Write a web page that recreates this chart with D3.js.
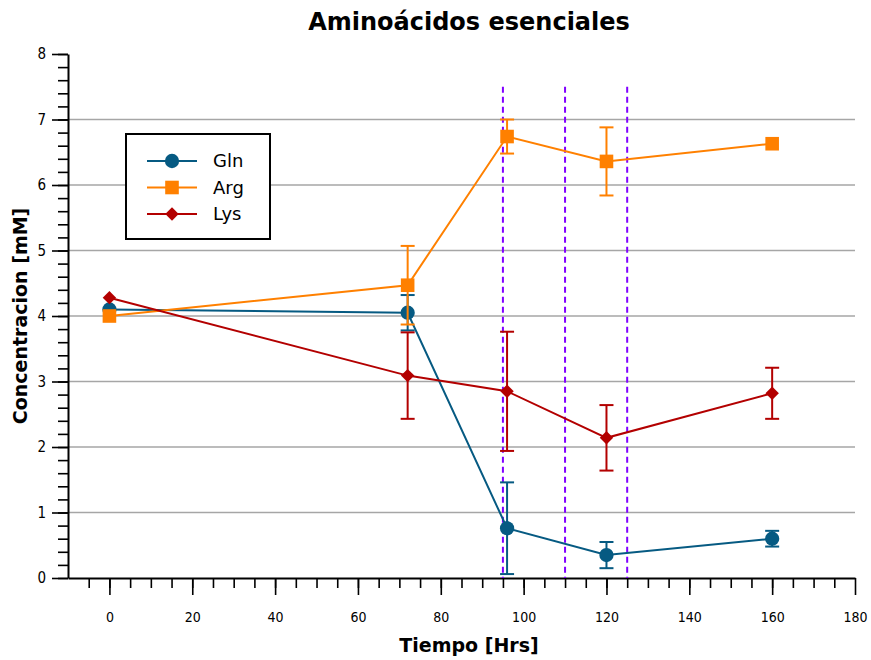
<!DOCTYPE html>
<html>
<head>
<meta charset="utf-8">
<script src="https://cdn.jsdelivr.net/npm/d3@7"></script>
<style>
  body { margin: 0; background: #fff; }
  text { font-family: "DejaVu Sans", Verdana, sans-serif; }
</style>
</head>
<body>
<div class="chart"></div>
<script>
// values
const hours = [0, 72, 96, 120, 160];
const gln = [4.1, 4.05, 0.76, 0.35, 0.6];
const glnErr = [0, 0.27, 0.7, 0.2, 0.12];
const arg = [4.0, 4.47, 6.74, 6.36, 6.63];
const argErr = [0, 0.6, 0.26, 0.52, 0];
const lys = [4.28, 3.09, 2.85, 2.14, 2.82];
const lysErr = [0, 0.66, 0.91, 0.5, 0.39];
const seriesNames = ["Gln", "Arg", "Lys"];
const markerLines = [95, 110, 125];
const xTicks = [0, 20, 40, 60, 80, 100, 120, 140, 160, 180];
const yTicks = [0, 1, 2, 3, 4, 5, 6, 7, 8];

const width = 871;
const height = 660;
const margin = {top: 54, right: 16, bottom: 82, left: 68};

const colors = {Gln: "#065a82", Arg: "#ff8000", Lys: "#b30000"};

// square turned 45 degrees, equal width and height
const symbolRhomb = {
    draw(ctx, size) {
        const r = Math.sqrt(size / 2);
        ctx.moveTo(0, -r);
        ctx.lineTo(r, 0);
        ctx.lineTo(0, r);
        ctx.lineTo(-r, 0);
        ctx.closePath();
    }
};

const series = [
  {name: "Gln", vals: gln, err: glnErr, shape: d3.symbolCircle, size: 160},
  {name: "Arg", vals: arg, err: argErr, shape: d3.symbolSquare, size: 185},
  {name: "Lys", vals: lys, err: lysErr, shape: symbolRhomb, size: 90}
];

const svg = d3.select(".chart")
    .append("svg")
    .attr("width", width)
    .attr("height", height);

const x = d3.scaleLinear()
    .domain([-10, 180])
    .range([margin.left, width - margin.right]);

const y = d3.scaleLinear()
    .domain([0, 8])
    .range([height - margin.bottom, margin.top]);

// grid
svg.append("g")
    .selectAll("line")
    .data(yTicks.filter(d => d > 0 && d < 8))
    .enter()
    .append("line")
    .attr("x1", margin.left)
    .attr("x2", width - margin.right)
    .attr("y1", d => y(d))
    .attr("y2", d => y(d))
    .attr("stroke", "#a6a6a6")
    .attr("stroke-width", 1.3);

// x axis: minor then major
const xAxisY = y(0);
svg.append("g")
    .attr("transform", `translate(0,${xAxisY})`)
    .call(d3.axisBottom(x).tickValues(d3.range(-5, 180, 5)).tickSize(10).tickFormat(""))
    .call(g => g.select(".domain").remove())
    .selectAll("line").attr("stroke", "#000").attr("stroke-width", 1.6);

svg.append("g")
    .attr("class", "x-axis")
    .attr("transform", `translate(0,${xAxisY})`)
    .call(d3.axisBottom(x).tickValues(xTicks).tickSize(17).tickSizeOuter(0).tickPadding(17))
    .call(g => g.select(".domain").attr("stroke-width", 2))
    .call(g => g.selectAll("line").attr("stroke-width", 1.6))
    .selectAll("text")
    .style("font-family", "'DejaVu Sans Condensed', 'DejaVu Sans', sans-serif")
    .style("font-size", "14px")
    .attr("fill", "#000");

// y axis
svg.append("g")
    .attr("transform", `translate(${margin.left},0)`)
    .call(d3.axisLeft(y).tickValues(d3.range(0, 8.01, 0.2)).tickSize(10).tickFormat(""))
    .call(g => g.select(".domain").remove())
    .selectAll("line").attr("stroke", "#000").attr("stroke-width", 1.6);

svg.append("g")
    .attr("class", "y-axis")
    .attr("transform", `translate(${margin.left},0)`)
    .call(d3.axisLeft(y).tickValues(yTicks).tickSize(16).tickSizeOuter(0).tickPadding(6))
    .call(g => g.select(".domain").attr("stroke-width", 2))
    .call(g => g.selectAll("line").attr("stroke-width", 1.6))
    .selectAll("text")
    .style("font-family", "'DejaVu Sans Condensed', 'DejaVu Sans', sans-serif")
    .style("font-size", "15px")
    .attr("fill", "#000");

// dashed vertical markers
svg.append("g")
    .selectAll("line")
    .data(markerLines)
    .enter()
    .append("line")
    .attr("x1", d => x(d))
    .attr("x2", d => x(d))
    .attr("y1", y(7.5))
    .attr("y2", y(0))
    .attr("stroke", "#8000ff")
    .attr("stroke-width", 2)
    .attr("stroke-dasharray", "6,4");

const line = d3.line()
    .x(d => x(d[0]))
    .y(d => y(d[1]));

series.forEach(s => {
    const pts = hours.map((h, i) => [h, s.vals[i], s.err[i]]);
    const g = svg.append("g").attr("class", "series-" + s.name);
    const c = colors[s.name];

    g.append("path")
        .datum(pts)
        .attr("d", line)
        .attr("fill", "none")
        .attr("stroke", c)
        .attr("stroke-width", 2);

    const eb = g.selectAll(".err")
        .data(pts.filter(d => d[2] > 0))
        .enter()
        .append("g")
        .attr("stroke", c)
        .attr("stroke-width", 2);
    eb.append("line")
        .attr("x1", d => x(d[0])).attr("x2", d => x(d[0]))
        .attr("y1", d => y(d[1] - d[2])).attr("y2", d => y(d[1] + d[2]));
    [-1, 1].forEach(sgn => {
        eb.append("line")
            .attr("x1", d => x(d[0]) - 7).attr("x2", d => x(d[0]) + 7)
            .attr("y1", d => y(d[1] + sgn * d[2])).attr("y2", d => y(d[1] + sgn * d[2]));
    });

    g.selectAll(".pt")
        .data(pts)
        .enter()
        .append("path")
        .attr("d", d3.symbol().type(s.shape).size(s.size))
        .attr("transform", d => `translate(${x(d[0])},${y(d[1])})`)
        .attr("fill", c);
});

// legend
const legend = svg.append("g").attr("transform", "translate(126,134)");
legend.append("rect")
    .attr("width", 144)
    .attr("height", 105)
    .attr("fill", "#fff")
    .attr("stroke", "#000")
    .attr("stroke-width", 2);

const entry = legend.selectAll(".entry")
    .data(series)
    .enter()
    .append("g")
    .attr("transform", (d, i) => `translate(0,${27 + i * 26.5})`);
entry.append("line")
    .attr("x1", 21).attr("x2", 71)
    .attr("stroke", d => colors[d.name])
    .attr("stroke-width", 2);
entry.append("path")
    .attr("d", d => d3.symbol().type(d.shape).size(d.size)())
    .attr("transform", "translate(46,0)")
    .attr("fill", d => colors[d.name]);
entry.append("text")
    .attr("x", 87)
    .attr("dy", "0.36em")
    .style("font-size", "18px")
    .text(d => d.name);

// titles
svg.append("text")
    .attr("x", 469)
    .attr("y", 30)
    .attr("text-anchor", "middle")
    .style("font-size", "24px")
    .style("font-weight", "bold")
    .text("Aminoácidos esenciales");

svg.append("text")
    .attr("x", 469)
    .attr("y", 652)
    .attr("text-anchor", "middle")
    .style("font-size", "19px")
    .style("font-weight", "bold")
    .text("Tiempo [Hrs]");

svg.append("text")
    .attr("transform", "translate(27,316) rotate(-90)")
    .attr("text-anchor", "middle")
    .style("font-size", "19px")
    .style("font-weight", "bold")
    .text("Concentracion [mM]");
</script>
</body>
</html>
